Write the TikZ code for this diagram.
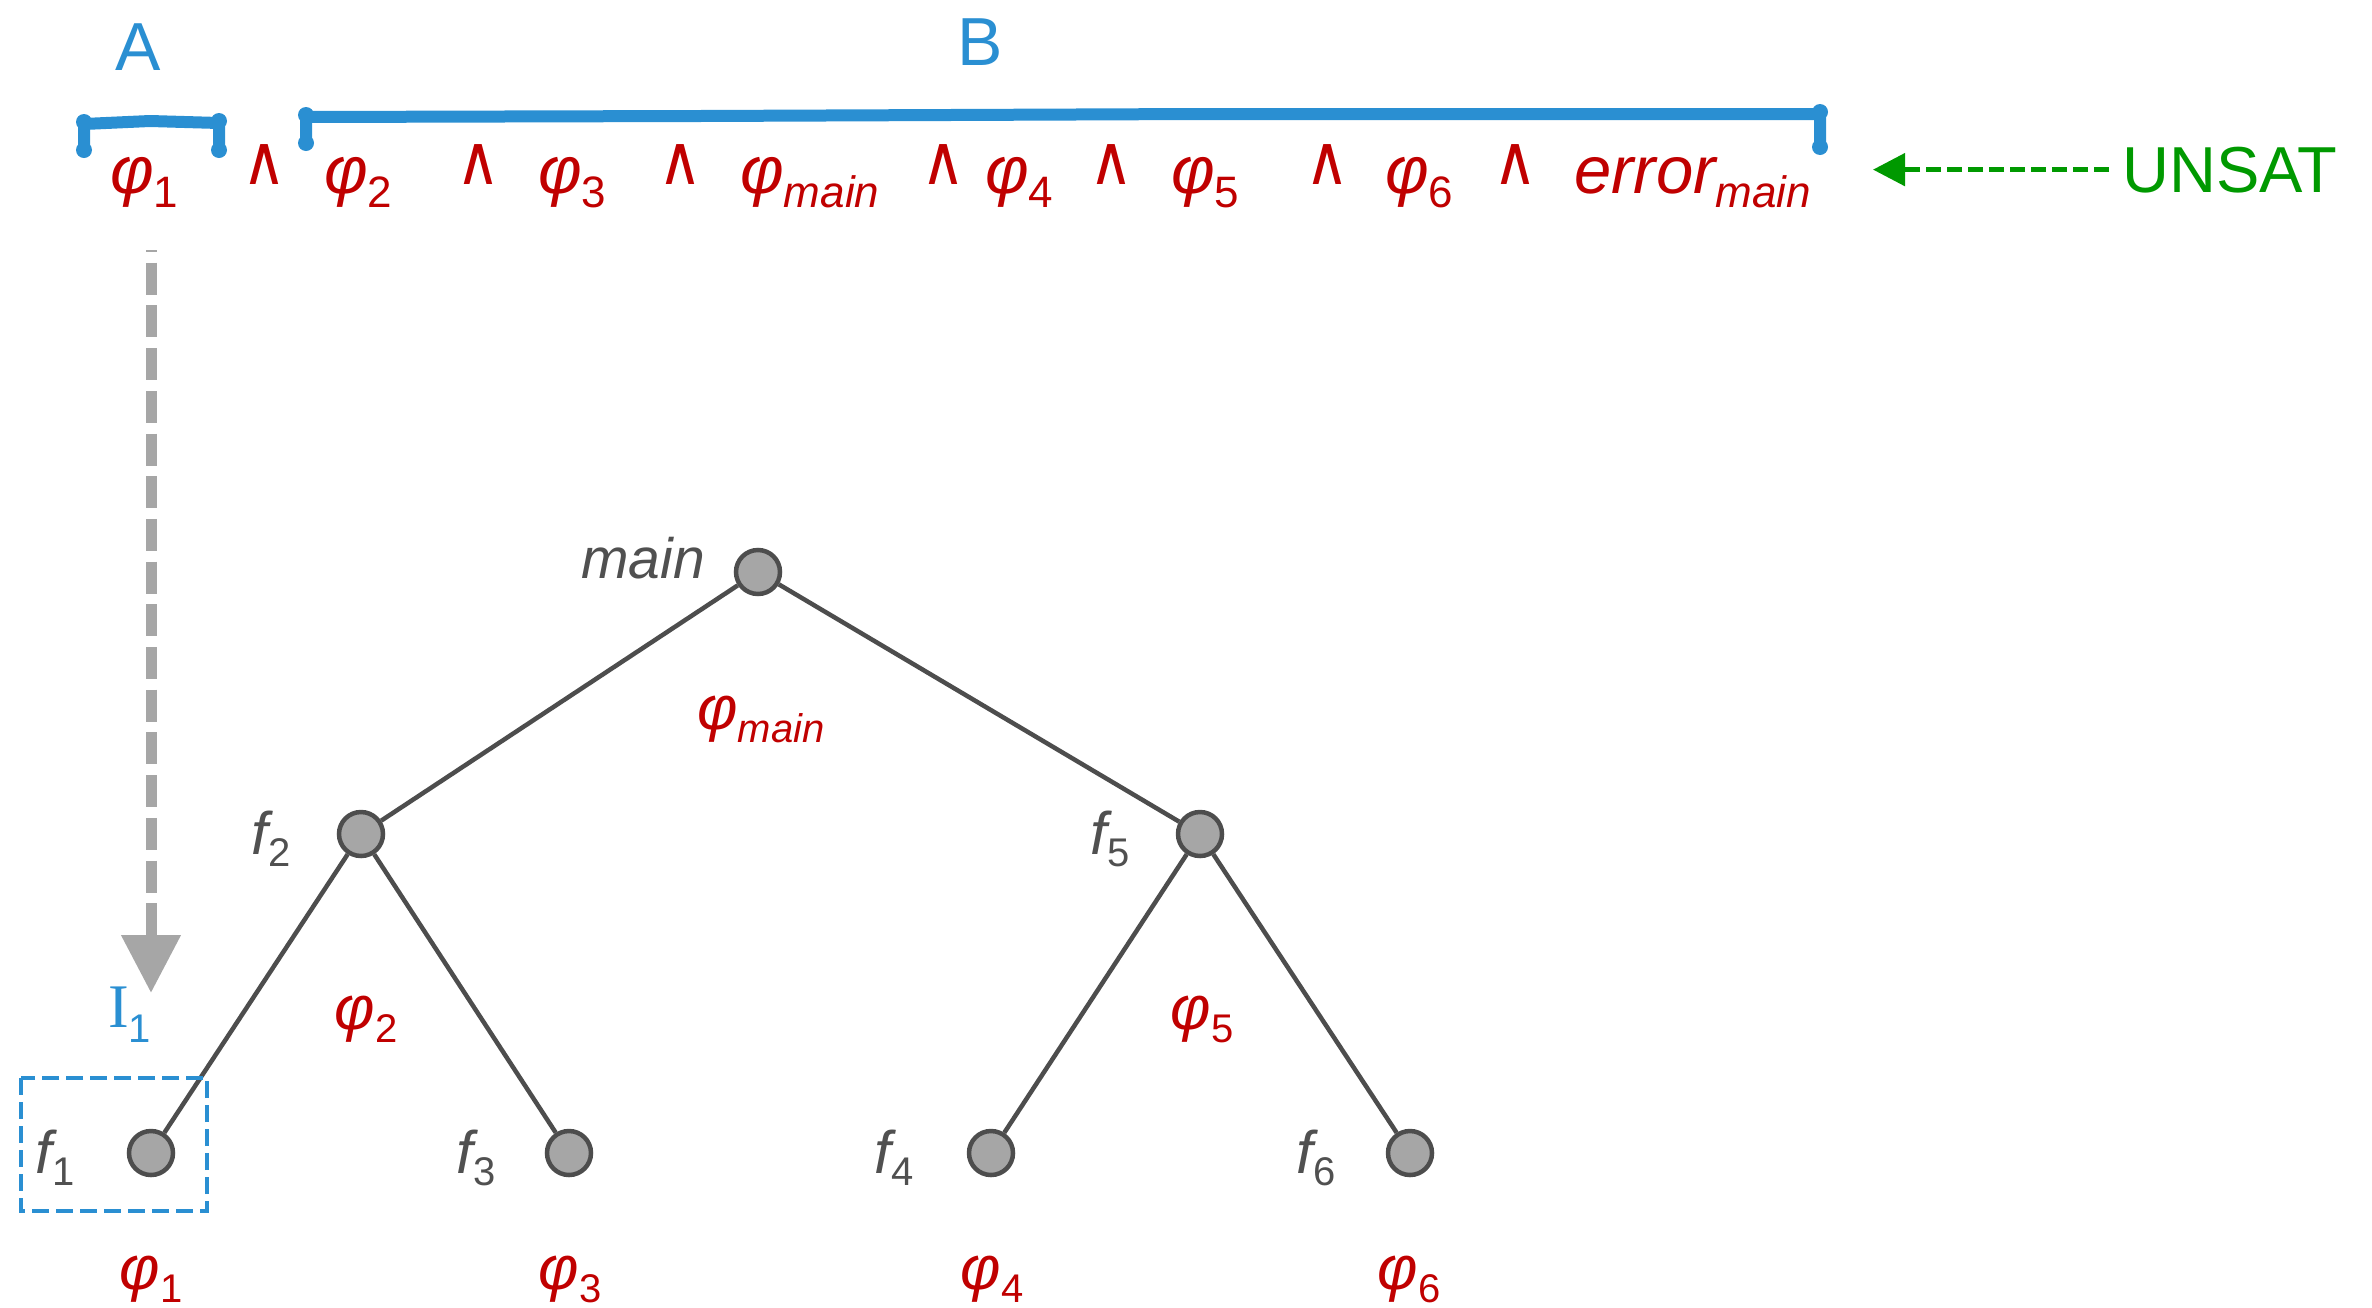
\documentclass[tikz,border=0pt]{standalone}
\usepackage{fontspec}
\setmainfont{Liberation Sans}
\newfontfamily\dejavu{DejaVu Sans}
\newfontfamily\serifI{Liberation Serif}
\usetikzlibrary{arrows.meta}
\definecolor{fred}{HTML}{C00000}
\definecolor{fblue}{HTML}{2A8FD2}
\definecolor{fgreen}{HTML}{009900}
\definecolor{fgray}{HTML}{A6A6A6}
\definecolor{fdark}{HTML}{4D4D4D}
\definecolor{flabel}{HTML}{505050}
\newcommand\fsz[1]{\fontsize{#1pt}{#1pt}\selectfont}
\newcommand\topsub[1]{\raisebox{-14pt}{\fsz{44}#1}}
\newcommand\trsub[1]{\raisebox{-13pt}{\fsz{40}#1}}
\newcommand\fsub[1]{\raisebox{-12pt}{\fsz{40}#1}}
\newcommand\wedgesym{\scalebox{1}[1.15]{∧}}
\begin{document}
\begin{tikzpicture}[x=1pt,y=-1pt,
  topterm/.style={anchor=base west, inner sep=0pt, text=fred, font=\fsz{67}\itshape},
  andsym/.style={anchor=south, inner sep=0pt, text=fred, font=\dejavu\fsz{60}},
  setlab/.style={anchor=base, inner sep=0pt, text=fblue, font=\fsz{68}},
  phil/.style={anchor=base, inner sep=0pt, text=fred, font=\fsz{62}\itshape},
  flab/.style={anchor=base east, inner sep=0pt, text=flabel, font=\fsz{60}\itshape},
  fnode/.style={circle, draw=fdark, fill=fgray, line width=4.5pt, minimum size=44pt, inner sep=0pt},
  edge/.style={draw=fdark, line width=4.5pt},
  brace/.style={draw=fblue, line width=12pt, line cap=round, line join=round},
  grayarrow/.style={draw=fgray, line width=11pt, dash pattern=on 32pt off 10.7pt, dash phase=30pt, -{Triangle[length=58pt,width=57pt,fill=fgray]}},
  greenarrow/.style={draw=fgreen, line width=5pt, dash pattern=on 15pt off 6pt, -{Triangle[length=32pt,width=32pt,fill=fgreen]}},
  boxstyle/.style={draw=fblue, line width=4.5pt, dash pattern=on 17pt off 7pt}
]
\useasboundingbox (0,0) rectangle (2372,1307);

% set labels
\node[setlab] (labA) at (138,70) {A};
\node[setlab] (labB) at (980,65) {B};

% braces
\draw[brace] (84,148) -- (84,124) -- (150,121) -- (219,123) -- (219,148);
\draw[brace] (306,141) -- (306,117) -- (700,116) -- (1200,114) -- (1820,114) -- (1820,145);
\foreach \p in {(84,150),(84,122),(219,121),(219,150),(306,143),(306,115),(1820,112),(1820,147)}
  \fill[fblue] \p circle (8pt);

% formula
\node[topterm] (t1) at (110,193) {φ\topsub{\upshape 1}};
\node[andsym] (a1) at (264,185) {\wedgesym};
\node[topterm] (t2) at (324,193) {φ\topsub{\upshape 2}};
\node[andsym] (a2) at (478,185) {\wedgesym};
\node[topterm] (t3) at (538,193) {φ\topsub{\upshape 3}};
\node[andsym] (a3) at (680,185) {\wedgesym};
\node[topterm] (tm) at (740,193) {φ\topsub{main}};
\node[andsym] (a4) at (943,185) {\wedgesym};
\node[topterm] (t4) at (985,193) {φ\topsub{\upshape 4}};
\node[andsym] (a5) at (1111,185) {\wedgesym};
\node[topterm] (t5) at (1171,193) {φ\topsub{\upshape 5}};
\node[andsym] (a6) at (1327,185) {\wedgesym};
\node[topterm] (t6) at (1385,193) {φ\topsub{\upshape 6}};
\node[andsym] (a7) at (1515,185) {\wedgesym};
\node[topterm] (te) at (1574,193) {error\topsub{main}};

% UNSAT
\node[anchor=base west, inner sep=0pt, text=fgreen, font=\fsz{65}] (unsat) at (2122,192) {UNSAT};
\coordinate (utip) at (1873,0);
\draw[greenarrow] ([xshift=-13pt]unsat.west) -- (unsat.west -| utip);

% gray interpolant arrow
\coordinate (gs) at (151,250);
\coordinate (ge) at (151,993);
\draw[grayarrow] (gs) -- (ge);
\node[anchor=base west, inner sep=0pt, text=fblue] (I1) at (108,1027) {\serifI\fsz{62}I\raisebox{-15pt}{\fsz{40}\rmfamily 1}};

% tree nodes
\node[fnode] (main) at (758,572) {};
\node[fnode] (f2) at (361,834) {};
\node[fnode] (f5) at (1200,834) {};
\node[fnode] (f1) at (151,1153) {};
\node[fnode] (f3) at (569,1153) {};
\node[fnode] (f4) at (991,1153) {};
\node[fnode] (f6) at (1410,1153) {};

\draw[edge] (main) -- (f2);
\draw[edge] (main) -- (f5);
\draw[edge] (f2) -- (f1);
\draw[edge] (f2) -- (f3);
\draw[edge] (f5) -- (f4);
\draw[edge] (f5) -- (f6);

% node labels
\node[anchor=base east, inner sep=0pt, text=flabel, font=\fsz{57}\itshape] (lmain) at (705,578) {main};
\node[flab] (lf2) at (291,854) {f\fsub{\upshape 2}};
\node[flab] (lf5) at (1130,854) {f\fsub{\upshape 5}};
\node[flab] (lf1) at (75,1173) {f\fsub{\upshape 1}};
\node[flab] (lf3) at (496,1173) {f\fsub{\upshape 3}};
\node[flab] (lf4) at (914,1173) {f\fsub{\upshape 4}};
\node[flab] (lf6) at (1336,1173) {f\fsub{\upshape 6}};

% formula labels in tree
\node[phil] (pm) at (761,729) {φ\trsub{main}};
\node[phil] (p2) at (366,1029) {φ\trsub{\upshape 2}};
\node[phil] (p5) at (1202,1029) {φ\trsub{\upshape 5}};
\node[phil] (p1) at (151,1289) {φ\trsub{\upshape 1}};
\node[phil] (p3) at (570,1289) {φ\trsub{\upshape 3}};
\node[phil] (p4) at (992,1289) {φ\trsub{\upshape 4}};
\node[phil] (p6) at (1409,1289) {φ\trsub{\upshape 6}};

% interpolant box
\draw[boxstyle] (21,1078) rectangle (207,1211);
\end{tikzpicture}
\end{document}
